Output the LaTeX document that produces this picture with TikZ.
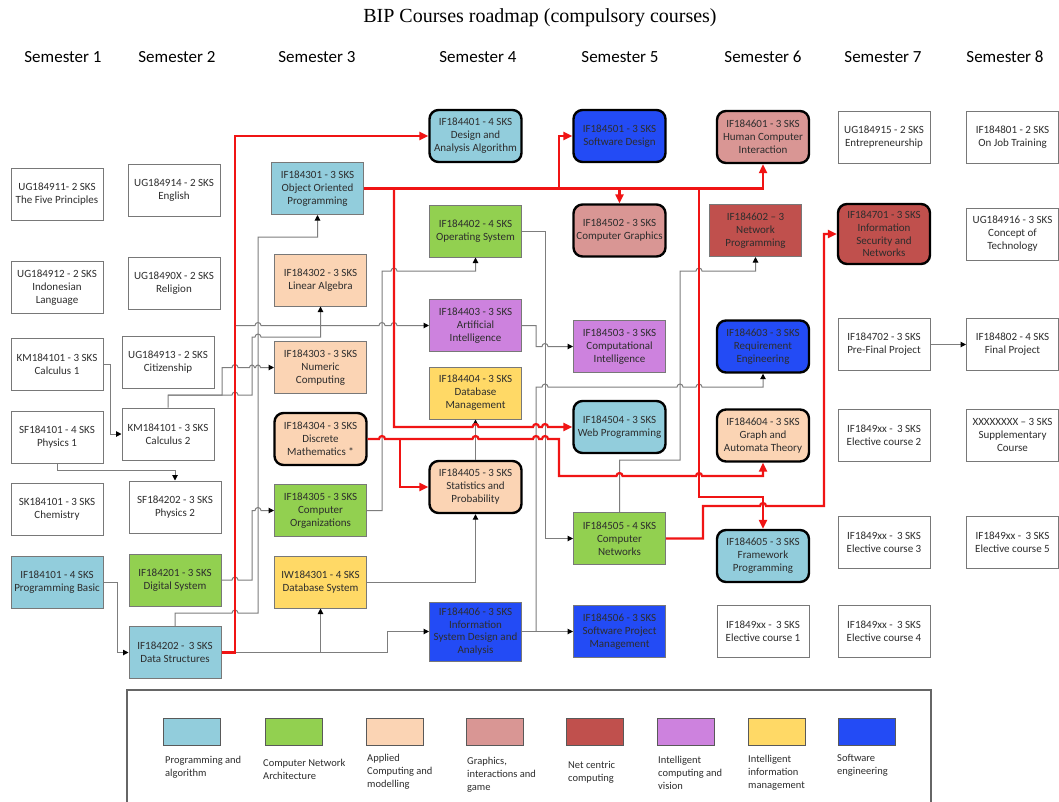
\documentclass[tikz,border=0pt]{standalone}
\usepackage{fontspec}
\setmainfont{Carlito}
\newfontfamily\titlefont{Liberation Serif}
\usetikzlibrary{arrows.meta}
\definecolor{cprog}{RGB}{146,205,220}
\definecolor{cnet}{RGB}{146,208,80}
\definecolor{capp}{RGB}{251,212,180}
\definecolor{cgra}{RGB}{217,150,148}
\definecolor{cnc}{RGB}{192,80,77}
\definecolor{cint}{RGB}{205,130,222}
\definecolor{cinf}{RGB}{255,217,102}
\definecolor{cse}{RGB}{35,75,245}
\definecolor{boxgray}{RGB}{120,120,120}
\definecolor{lgray}{RGB}{125,125,125}
\definecolor{txt}{RGB}{45,45,45}
\definecolor{rline}{RGB}{240,20,20}
\tikzset{
  box/.style={draw=boxgray, line width=1pt, minimum width=92pt, minimum height=52pt,
    inner sep=1pt, align=center, text=txt, font=\fontsize{11}{13}\selectfont},
  keybox/.style={box, draw=black, line width=2.4pt, rounded corners=9pt},
  gl/.style={draw=lgray, line width=1pt, -{Triangle[length=5.5pt,width=5.5pt,color=black]}},
  rl/.style={draw=rline, line width=2.2pt, -{Triangle[length=9pt,width=8pt]}},
  hop/.style={start angle=180, end angle=0, radius=3pt},
  sem/.style={font=\fontsize{17}{20}\selectfont, text=black},
  swatch/.style={draw=black!65, line width=1pt, minimum width=57pt, minimum height=27pt, inner sep=0pt},
  leg/.style={anchor=north west, align=left, inner sep=0pt, text=txt, font=\fontsize{10.5}{13}\selectfont}
}
\begin{document}
\begin{tikzpicture}[x=1pt,y=-1pt]
\useasboundingbox (0,0) rectangle (1059,801);
\fill[white] (0,0) rectangle (1059,801);
% title and headers
\node[font=\titlefont\fontsize{20}{23}\selectfont] (title) at (540,18) {BIP Courses roadmap (compulsory courses)};
\node[sem] (h1) at (63,57) {Semester 1};
\node[sem] (h2) at (177,57) {Semester 2};
\node[sem] (h3) at (317,57) {Semester 3};
\node[sem] (h4) at (478,57) {Semester 4};
\node[sem] (h5) at (620,57) {Semester 5};
\node[sem] (h6) at (763,57) {Semester 6};
\node[sem] (h7) at (883,57) {Semester 7};
\node[sem] (h8) at (1005,57) {Semester 8};
% semester 1
\node[box] (s11) at (57,194) {UG184911- 2 SKS\\The Five Principles};
\node[box] (s12) at (57,287.5) {UG184912 - 2 SKS\\Indonesian\\Language};
\node[box] (s13) at (57,364.5) {KM184101 - 3 SKS\\Calculus 1};
\node[box] (s14) at (57,437.5) {SF184101 - 4 SKS\\Physics 1};
\node[box] (s15) at (57,509.5) {SK184101 - 3 SKS\\Chemistry};
\node[box, fill=cprog] (s16) at (57,582) {IF184101 - 4 SKS\\Programming Basic};
% semester 2
\node[box] (s21) at (174,190) {UG184914 - 2 SKS\\English};
\node[box] (s22) at (174,283) {UG18490X - 2 SKS\\Religion};
\node[box] (s23) at (168,362) {UG184913 - 2 SKS\\Citizenship};
\node[box] (s24) at (168,434) {KM184101 - 3 SKS\\Calculus 2};
\node[box] (s25) at (175,507) {SF184202 - 3 SKS\\Physics 2};
\node[box, fill=cnet] (s26) at (175,580) {IF184201 - 3 SKS\\Digital System};
\node[box, fill=cprog] (s27) at (175,652.5) {IF184202 -\, 3 SKS\\Data Structures};
% semester 3
\node[box, fill=cprog] (s31) at (317.5,188.5) {IF184301 - 3 SKS\\Object Oriented\\Programming};
\node[box, fill=capp] (s32) at (320.5,280) {IF184302 - 3 SKS\\Linear Algebra};
\node[box, fill=capp] (s33) at (320.5,367.5) {IF184303 - 3 SKS\\Numeric\\Computing};
\node[keybox, fill=capp] (s34) at (320.5,439) {IF184304 - 3 SKS\\Discrete\\Mathematics *};
\node[box, fill=cnet] (s35) at (320.5,510.5) {IF184305 - 3 SKS\\Computer\\Organizations};
\node[box, fill=cinf] (s36) at (320.5,582) {IW184301 - 4 SKS\\Database System};
% semester 4
\node[keybox, fill=cprog] (s41) at (475.5,136) {IF184401 - 4 SKS\\Design and\\Analysis Algorithm};
\node[box, fill=cnet] (s42) at (475.5,231) {IF184402 - 4 SKS\\Operating System};
\node[box, fill=cint] (s43) at (475.5,325.5) {IF184403 - 3 SKS\\Artificial\\Intelligence};
\node[box, fill=cinf] (s44) at (475.5,393) {IF184404 - 3 SKS\\Database\\Management};
\node[keybox, fill=capp] (s45) at (475.5,487) {IF184405 - 3 SKS\\Statistics and\\Probability};
\node[box, fill=cse, minimum height=59pt, font=\fontsize{11}{12.6}\selectfont] (s46) at (475.5,631.5) {IF184406 - 3 SKS\\Information\\System Design and\\Analysis};
% semester 5
\node[keybox, fill=cse] (s51) at (619.5,136) {IF184501 - 3 SKS\\Software Design};
\node[keybox, fill=cgra] (s52) at (619.5,230.5) {IF184502 - 3 SKS\\Computer Graphics};
\node[box, fill=cint] (s53) at (619.5,346.5) {IF184503 - 3 SKS\\Computational\\Intelligence};
\node[keybox, fill=cprog] (s54) at (619.5,427) {IF184504 - 3 SKS\\Web Programming};
\node[box, fill=cnet] (s55) at (619.5,538.5) {IF184505 - 4 SKS\\Computer\\Networks};
\node[box, fill=cse] (s56) at (619.5,631.5) {IF184506 - 3 SKS\\Software Project\\Management};
% semester 6
\node[keybox, fill=cgra] (s61) at (763,137) {IF184601 - 3 SKS\\Human Computer\\Interaction};
\node[box, fill=cnc] (s62) at (755.5,230.5) {IF184602 – 3\\Network\\Programming};
\node[keybox, fill=cse] (s63) at (763,346.5) {IF184603 - 3 SKS\\Requirement\\Engineering};
\node[keybox, fill=capp] (s64) at (763,435.5) {IF184604 - 3 SKS\\Graph and\\Automata Theory};
\node[keybox, fill=cprog] (s65) at (763,556) {IF184605 - 3 SKS\\Framework\\Programming};
\node[box] (s66) at (763,631.5) {IF1849xx -\, 3 SKS\\Elective course 1};
% semester 7
\node[box] (s71) at (884,137) {UG184915 - 2 SKS\\Entrepreneurship};
\node[keybox, fill=cnc, minimum height=60pt, font=\fontsize{11}{12.6}\selectfont] (s72) at (884,234) {IF184701 - 3 SKS\\Information\\Security and\\Networks};
\node[box] (s73) at (884,344.5) {IF184702 - 3 SKS\\Pre-Final Project};
\node[box] (s74) at (884,435) {IF1849xx -\, 3 SKS\\Elective course 2};
\node[box] (s75) at (884,542.5) {IF1849xx -\, 3 SKS\\Elective course 3};
\node[box] (s76) at (884,631.5) {IF1849xx -\, 3 SKS\\Elective course 4};
% semester 8
\node[box] (s81) at (1012.5,137) {IF184801 - 2 SKS\\On Job Training};
\node[box] (s82) at (1012.5,234) {UG184916 - 3 SKS\\Concept of\\Technology};
\node[box] (s83) at (1012.5,344.5) {IF184802 - 4 SKS\\Final Project};
\node[box] (s84) at (1012.5,435) {XXXXXXXX – 3 SKS\\Supplementary\\Course};
\node[box] (s85) at (1012.5,542.5) {IF1849xx -\, 3 SKS\\Elective course 5};
% junction coordinates
\coordinate (g1) at (168,395);
\coordinate (d1) at (235,652.5);
\coordinate (j1) at (394,188.5);
\coordinate (j2) at (559,188.5);
\coordinate (j3) at (619.5,188.5);
\coordinate (j4) at (699,188.5);
\coordinate (j5) at (400,439);
\coordinate (g2) at (536,631.5);
% gray connectors
\draw[gl] (s13.east) -- (110,364.5) |- (s24.west);
\draw[gl] (s14.south) -- (57,470) -| (s25.north);
\draw[gl] (s16.east) -- (117,582) |- (s27.west);
\draw[gl] (s24.north) -- (g1) -- (222,395) -- (222,367.5) -- (232,367.5) arc[hop]
   -- (249.5,367.5) arc[start angle=180,end angle=0,radius=2.5pt] -- (255.5,367.5) arc[start angle=180,end angle=0,radius=2.5pt] -- (s33.west);
\draw[gl] (g1) -- (232,395) arc[hop] -- (252,395) -- (252,337) -- (255,337) arc[hop] -- (320.5,337) -- (s32.south);
\draw[gl] (s27.north) -- (175,613) -- (232,613) arc[hop] -- (258,613) -- (258,237) -| (s31.south);
\draw[gl] (s26.east) -- (232,580) arc[hop] -- (252,580) -- (252,510.5) -- (255,510.5) arc[hop] -- (s35.west);
\draw[gl] (s27.east) -| (s36.south);
\draw[gl] (s27.east) -- (387,652.5) |- (s46.west);
\draw[gl] (d1) -- (235,325.5) -- (255,325.5) arc[hop] -- (379,325.5) arc[hop] -- (391,325.5) arc[hop] -- (s43.west);
\draw[gl] (s35.east) -- (382,510.5) -- (382,271) -- (391,271) arc[hop] -- (475.5,271) -- (s42.south);
\draw[gl] (s36.east) -| (s45.south);
\draw[gl] (s45.north) -- (s44.south);
\draw[gl] (s42.east) -- (545,231) |- (s55.west);
\draw[gl] (s43.east) -- (536,325.5) -- (536,346.5) -- (542,346.5) arc[hop] -- (s53.west);
\draw[gl] (s46.east) -- (s56.west);
\draw[gl] (g2) -- (536,387) -- (542,387) arc[hop] -- (677,387) arc[hop] -- (696,387) arc[hop] -- (763,387) -- (s63.south);
\draw[gl] (s55.north) -- (619.5,460) -- (680,460) -- (680,271) -- (696,271) arc[hop] -- (755.5,271) -- (s62.south);
\draw[gl] (s73.east) -- (s83.west);
% red connectors
\draw[rl] (s27.east) -- (d1) |- (s41.west);
\draw[rl] (s31.east) -| (s61.south);
\draw[rl] (j1) -- (394,427) -- (472.5,427) arc[hop] -- (533,427) arc[hop] -- (542,427) arc[hop] -- (s54.west);
\draw[rl] (j2) |- (s51.west);
\draw[rl] (j3) -- (s52.north);
\draw[rl] (j4) -- (699,497) -| (s65.north);
\draw[rl] (s34.east) -- (379,439) arc[hop] -- (472.5,439) arc[hop] -- (533,439) arc[hop] -- (542,439) arc[hop]
   -- (559,439) -- (559,476) -- (616.5,476) arc[hop] -- (696,476) arc[hop] -- (763,476) -- (s64.south);
\draw[rl] (j5) |- (s45.west);
\draw[rl] (s55.east) -- (703,538.5) -- (703,506) -- (760,506) arc[hop] -- (824,506) |- (s72.west);
% legend
\draw[draw=black!60, line width=1.6pt] (127,690) rectangle (931,812);
\node[swatch, fill=cprog] (k1) at (191.5,731.5) {};
\node[swatch, fill=cnet] (k2) at (294,731.5) {};
\node[swatch, fill=capp] (k3) at (395,731.5) {};
\node[swatch, fill=cgra] (k4) at (494.5,731.5) {};
\node[swatch, fill=cnc] (k5) at (595,731.5) {};
\node[swatch, fill=cint] (k6) at (686,731.5) {};
\node[swatch, fill=cinf] (k7) at (777,731.5) {};
\node[swatch, fill=cse] (k8) at (866.5,731.5) {};
\node[leg] (l1) at (165,756) {Programming and\\algorithm};
\node[leg] (l2) at (263,759) {Computer Network\\Architecture};
\node[leg] (l3) at (367,754) {Applied\\Computing and\\modelling};
\node[leg] (l4) at (467,757) {Graphics,\\interactions and\\game};
\node[leg] (l5) at (568,761) {Net centric\\computing};
\node[leg] (l6) at (658,756) {Intelligent\\computing and\\vision};
\node[leg] (l7) at (748,755) {Intelligent\\information\\management};
\node[leg] (l8) at (837,754) {Software\\engineering};
\end{tikzpicture}
\end{document}
